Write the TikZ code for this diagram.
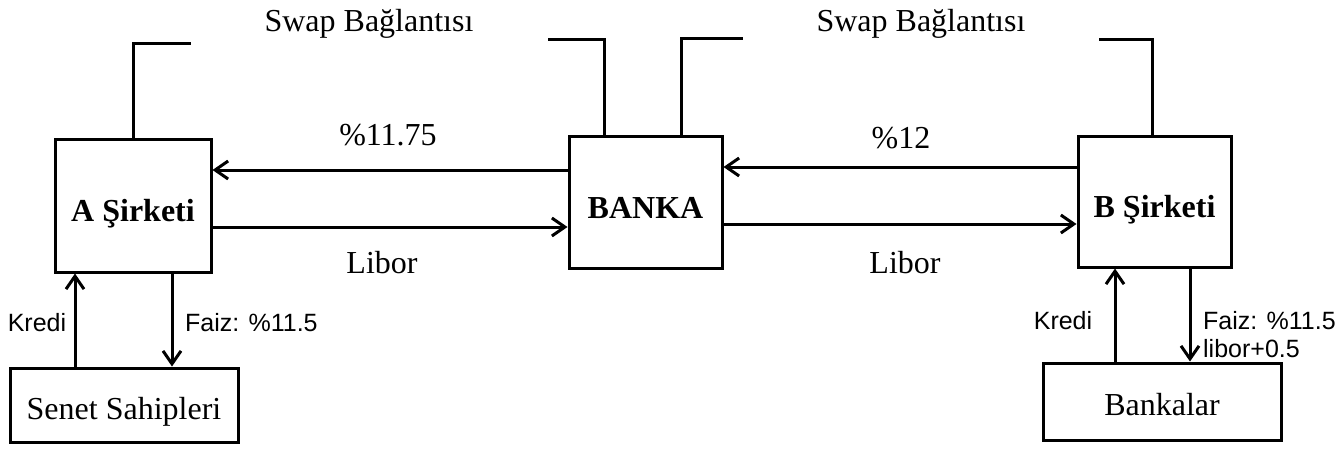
\documentclass[tikz,border=0pt]{standalone}
\usepackage{fontspec}
\setmainfont{Liberation Serif}
\setsansfont{Liberation Sans}
\usetikzlibrary{arrows.meta, positioning}

\begin{document}
\begin{tikzpicture}[
        x = 0.5pt, y = -0.5pt,
        line width = 1.5pt,
        >= {Straight Barb[length = 6.5pt, width = 9pt]},
        party/.style = {draw, inner sep = 0pt, text height = 16pt, text depth = 0pt, font = \fontsize{16}{19}\selectfont\bfseries},
        holder/.style = {draw, inner sep = 0pt, text height = 14pt, text depth = 0pt, font = \fontsize{16}{19}\selectfont},
        rate/.style = {font = \fontsize{16}{19}\selectfont},
        small/.style = {font = \sffamily\fontsize{12.5}{14}\selectfont}
    ]

    \useasboundingbox (0,0) rectangle (1337,450);

    % main parties
    \node[party, minimum width = 78pt, minimum height = 66.5pt] (firmA) at (133,205.5) {A Şirketi};
    \node[party, minimum width = 76.5pt, minimum height = 66pt] (bank) at (645.5,202) {BANKA};
    \node[party, minimum width = 76.5pt, minimum height = 65.5pt] (firmB) at (1154.5,201.5) {B Şirketi};

    % lenders
    \node[holder, minimum width = 114pt, minimum height = 37pt] (holders) at (124,405) {Senet Sahipleri};
    \node[holder, minimum width = 119pt, minimum height = 38.5pt] (banks) at (1162,401.5) {Bankalar};

    % swap brackets
    \coordinate (swapA) at (191,43);
    \coordinate (swapBankL) at (548,39);
    \coordinate (swapBankR) at (743,38);
    \coordinate (swapB) at (1099,39);

    \draw (firmA.north) |- (swapA);
    \draw (swapBankL) -| (bank.north -| 604,0);
    \draw (bank.north -| 681,0) |- (swapBankR);
    \draw (swapB) -| (firmB.north -| 1152,0);

    \node[rate] (swapLabelA) at (369,24) {Swap Bağlantısı};
    \node[rate] (swapLabelB) at (921,24) {Swap Bağlantısı};

    % swap payments
    \draw[->] (bank.west |- 0,170) -- (firmA.east |- 0,170);
    \draw[->] (firmA.east |- 0,227) -- (bank.west |- 0,227);
    \draw[->] (firmB.west |- 0,167) -- (bank.east |- 0,167);
    \draw[->] (bank.east |- 0,224) -- (firmB.west |- 0,224);

    \node[rate] (fixA) at (388,135) {\%11.75};
    \node[rate] (fixB) at (901,138) {\%12};
    \node[rate] (liborA) at (382,263) {Libor};
    \node[rate] (liborB) at (905,263) {Libor};

    % loans
    \draw[->] (holders.north -| 75,0) -- (firmA.south -| 75,0);
    \draw[->] (firmA.south -| 172,0) -- (holders.north -| 172,0);
    \draw[->] (banks.north -| 1115,0) -- (firmB.south -| 1115,0);
    \draw[->] (firmB.south -| 1190,0) -- (banks.north -| 1190,0);

    \node[small] (krediA) at (37,323) {Kredi};
    \node[small, anchor = west] (faizA) at (177,323) {Faiz: \%11.5};
    \node[small] (krediB) at (1063,321) {Kredi};
    \node[small, anchor = west, align = left] (faizB) at (1195,335) {Faiz: \%11.5\\libor+0.5};

\end{tikzpicture}
\end{document}
